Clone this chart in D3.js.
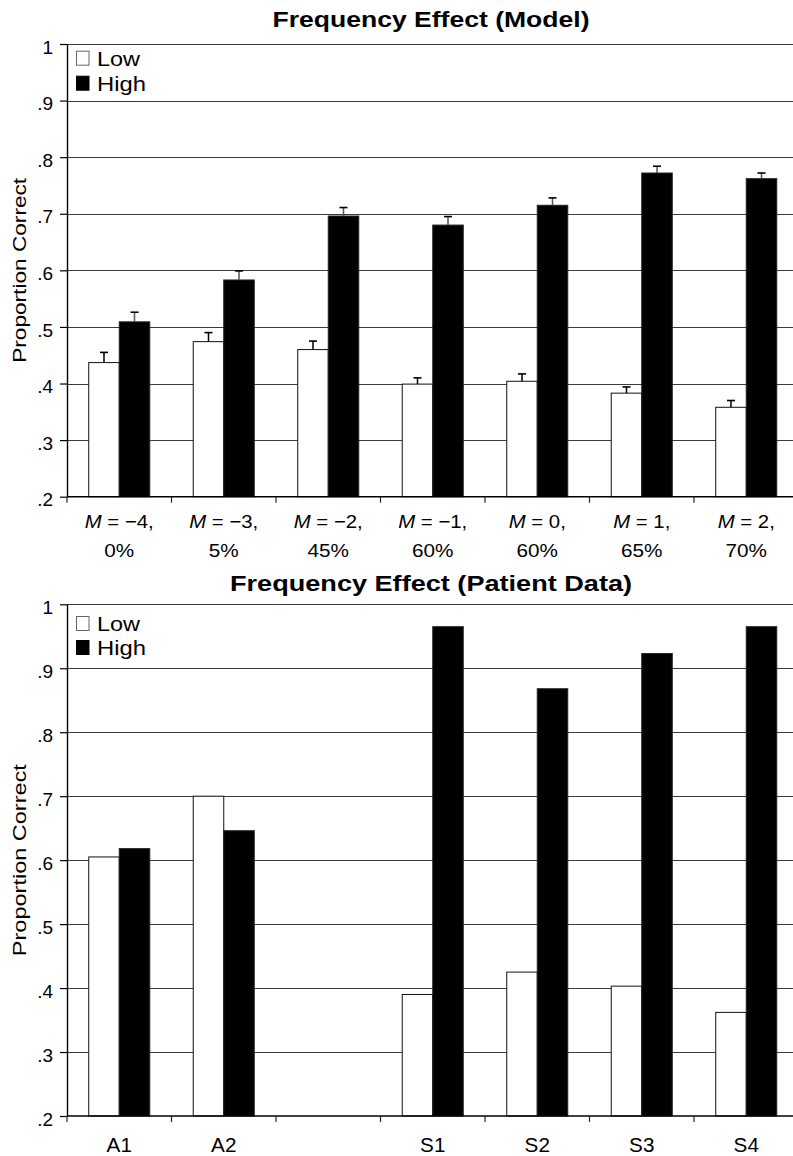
<!DOCTYPE html>
<html><head><meta charset="utf-8">
<script src="https://cdn.jsdelivr.net/npm/d3@7"></script>
<style>
body{margin:0;background:#fff}
svg{display:block}
text{font-family:"Liberation Sans", Arial, Helvetica, sans-serif; fill:#000}
</style>
</head><body>
<svg id="chart" width="793" height="1156"></svg>
<script>
// ---------- data ----------
const seriesKeys = ["Low", "High"];
const yTicks = [0.2, 0.3, 0.4, 0.5, 0.6, 0.7, 0.8, 0.9, 1.0];
const yTickLabels = [".2", ".3", ".4", ".5", ".6", ".7", ".8", ".9", "1"];

const modelMValues = ["\u22124", "\u22123", "\u22122", "\u22121", "0", "1", "2"];
const modelPercents = ["0%", "5%", "45%", "60%", "60%", "65%", "70%"];
const modelLow     = [0.437, 0.474, 0.460, 0.399, 0.404, 0.383, 0.358];
const modelLowErr  = [0.018, 0.016, 0.015, 0.011, 0.013, 0.011, 0.012];
const modelHigh    = [0.509, 0.583, 0.696, 0.680, 0.715, 0.772, 0.762];
const modelHighErr = [0.017, 0.016, 0.015, 0.015, 0.013, 0.012, 0.010];

const patientCategories = ["A1", "A2", "", "S1", "S2", "S3", "S4"];
const patientLow  = [0.605, 0.700, null, 0.390, 0.425, 0.403, 0.362];
const patientHigh = [0.618, 0.646, null, 0.965, 0.868, 0.923, 0.965];

// ---------- drawing ----------
const svg = d3.select("#chart");
const plotLeft = 67, plotRight = 798.5;

function drawPanel(cfg) {
  const g = svg.append("g");
  const n = cfg.low.length;
  const x = d3.scaleBand().domain(d3.range(n)).range([plotLeft, plotRight]).paddingInner(0).paddingOuter(0);
  const bw = x.bandwidth();
  const xs = d3.scaleBand().domain(seriesKeys).range([bw * 0.208, bw * 0.792]).padding(0);
  const y = d3.scaleLinear().domain([0.2, 1.0]).range([cfg.bottom, cfg.top]);

  // gridlines
  g.append("g").selectAll("line").data(yTicks.filter(t => t > 0.2)).join("line")
    .attr("x1", plotLeft).attr("x2", plotRight)
    .attr("y1", d => Math.round(y(d)) + 0.5).attr("y2", d => Math.round(y(d)) + 0.5)
    .attr("stroke", "#3c3c3c").attr("stroke-width", 1.1);

  // bars
  const rows = d3.range(n).map(i => ({i, Low: cfg.low[i], High: cfg.high[i],
    LowErr: cfg.lowErr ? cfg.lowErr[i] : null, HighErr: cfg.highErr ? cfg.highErr[i] : null}));
  const grp = g.append("g").selectAll("g").data(rows).join("g")
    .attr("transform", d => `translate(${x(d.i)},0)`);
  grp.selectAll("rect").data(d => seriesKeys.filter(k => d[k] != null).map(k => ({k, v: d[k]}))).join("rect")
    .attr("x", d => xs(d.k)).attr("width", xs.bandwidth())
    .attr("y", d => y(d.v)).attr("height", d => y(0.2) - y(d.v))
    .attr("fill", d => d.k === "Low" ? "#fff" : "#000")
    .attr("stroke", d => d.k === "Low" ? "#111" : "#222")
    .attr("stroke-width", 1);

  // error bars (upper only)
  if (cfg.lowErr) {
    const eb = grp.selectAll("g.err").data(d => seriesKeys.map(k => ({k, v: d[k], e: d[k + "Err"]}))).join("g")
      .attr("class", "err");
    eb.append("line")
      .attr("x1", d => xs(d.k) + xs.bandwidth() / 2).attr("x2", d => xs(d.k) + xs.bandwidth() / 2)
      .attr("y1", d => y(d.v)).attr("y2", d => y(d.v + d.e))
      .attr("stroke", d => d.k === "Low" ? "#000" : "#555").attr("stroke-width", 1.5);
    eb.append("line")
      .attr("x1", d => xs(d.k) + xs.bandwidth() / 2 - 4).attr("x2", d => xs(d.k) + xs.bandwidth() / 2 + 4)
      .attr("y1", d => y(d.v + d.e)).attr("y2", d => y(d.v + d.e))
      .attr("stroke", "#000").attr("stroke-width", 1.6);
  }

  // left axis
  const ya = g.append("g").attr("transform", `translate(${plotLeft},0)`)
    .call(d3.axisLeft(y).tickValues(yTicks).tickFormat((d, i) => yTickLabels[i]).tickSize(7).tickSizeOuter(0).tickPadding(7));
  ya.select(".domain").attr("stroke", "#000").attr("stroke-width", 1.4);
  ya.selectAll(".tick line").attr("stroke", "#000").attr("stroke-width", 1.2);
  ya.selectAll(".tick text").attr("font-size", 19).attr("dy", "0.48em")
    .attr("font-family", '"Liberation Sans", Arial, sans-serif');

  // bottom axis
  g.append("line").attr("x1", plotLeft).attr("x2", plotRight)
    .attr("y1", y(0.2)).attr("y2", y(0.2)).attr("stroke", "#000").attr("stroke-width", 1.6);
  g.append("g").selectAll("line").data(d3.range(n + 1)).join("line")
    .attr("x1", i => plotLeft + i * x.step()).attr("x2", i => plotLeft + i * x.step())
    .attr("y1", y(0.2)).attr("y2", y(0.2) + 6).attr("stroke", "#222").attr("stroke-width", 1.2);

  // x labels
  cfg.xLabels(g, x);

  // y title
  g.append("text").attr("transform", `translate(26,${(cfg.top + cfg.bottom) / 2}) rotate(-90)`)
    .attr("text-anchor", "middle").attr("font-size", 19)
    .attr("textLength", cfg.yTitleLen).attr("lengthAdjust", "spacingAndGlyphs")
    .text("Proportion Correct");

  // title
  g.append("text").attr("x", 431).attr("y", cfg.titleY).attr("text-anchor", "middle")
    .attr("font-size", 22).attr("font-weight", "bold")
    .attr("textLength", cfg.titleLen).attr("lengthAdjust", "spacingAndGlyphs")
    .text(cfg.title);

  // legend
  const lg = g.append("g").selectAll("g").data(seriesKeys).join("g")
    .attr("transform", (d, i) => `translate(76,${cfg.legendY + i * cfg.legendStep})`);
  lg.append("rect").attr("x", 0.5).attr("y", -14.5).attr("width", 12.5).attr("height", 14)
    .attr("fill", d => d === "Low" ? "#fff" : "#000").attr("stroke", d => d === "Low" ? "#666" : "#000").attr("stroke-width", 1);
  lg.append("text").attr("x", 21).attr("y", 0).attr("font-size", 20.5)
    .attr("textLength", d => d === "Low" ? 43 : 49).attr("lengthAdjust", "spacingAndGlyphs")
    .text(d => d);
}

drawPanel({
  top: 44, bottom: 496.7,
  low: modelLow, high: modelHigh, lowErr: modelLowErr, highErr: modelHighErr,
  title: "Frequency Effect (Model)", titleY: 27, titleLen: 317,
  yTitleLen: 185, legendY: 65.7, legendStep: 25,
  xLabels: (g, x) => {
    const t = g.append("g").selectAll("g").data(d3.range(modelMValues.length)).join("g")
      .attr("transform", i => `translate(${x(i) + x.bandwidth() / 2},0)`);
    const l1 = t.append("text").attr("text-anchor", "middle").attr("font-size", 18.5)
      .attr("transform", "translate(0,528) scale(1.1,1)");
    l1.append("tspan").attr("font-style", "italic").text("M");
    l1.append("tspan").text(i => " = " + modelMValues[i] + ",");
    t.append("text").attr("text-anchor", "middle").attr("font-size", 18.5)
      .attr("transform", "translate(0,557) scale(1.12,1)")
      .text(i => modelPercents[i]);
  }
});

drawPanel({
  top: 604.3, bottom: 1116,
  low: patientLow, high: patientHigh, lowErr: null, highErr: null,
  title: "Frequency Effect (Patient Data)", titleY: 591, titleLen: 402,
  yTitleLen: 192, legendY: 631, legendStep: 24,
  xLabels: (g, x) => {
    g.append("g").selectAll("text").data(d3.range(patientCategories.length)).join("text")
      .attr("text-anchor", "middle").attr("font-size", 19.5)
      .attr("transform", i => `translate(${x(i) + x.bandwidth() / 2},1152) scale(1.06,1)`)
      .text(i => patientCategories[i]);
  }
});
</script>
</body></html>
